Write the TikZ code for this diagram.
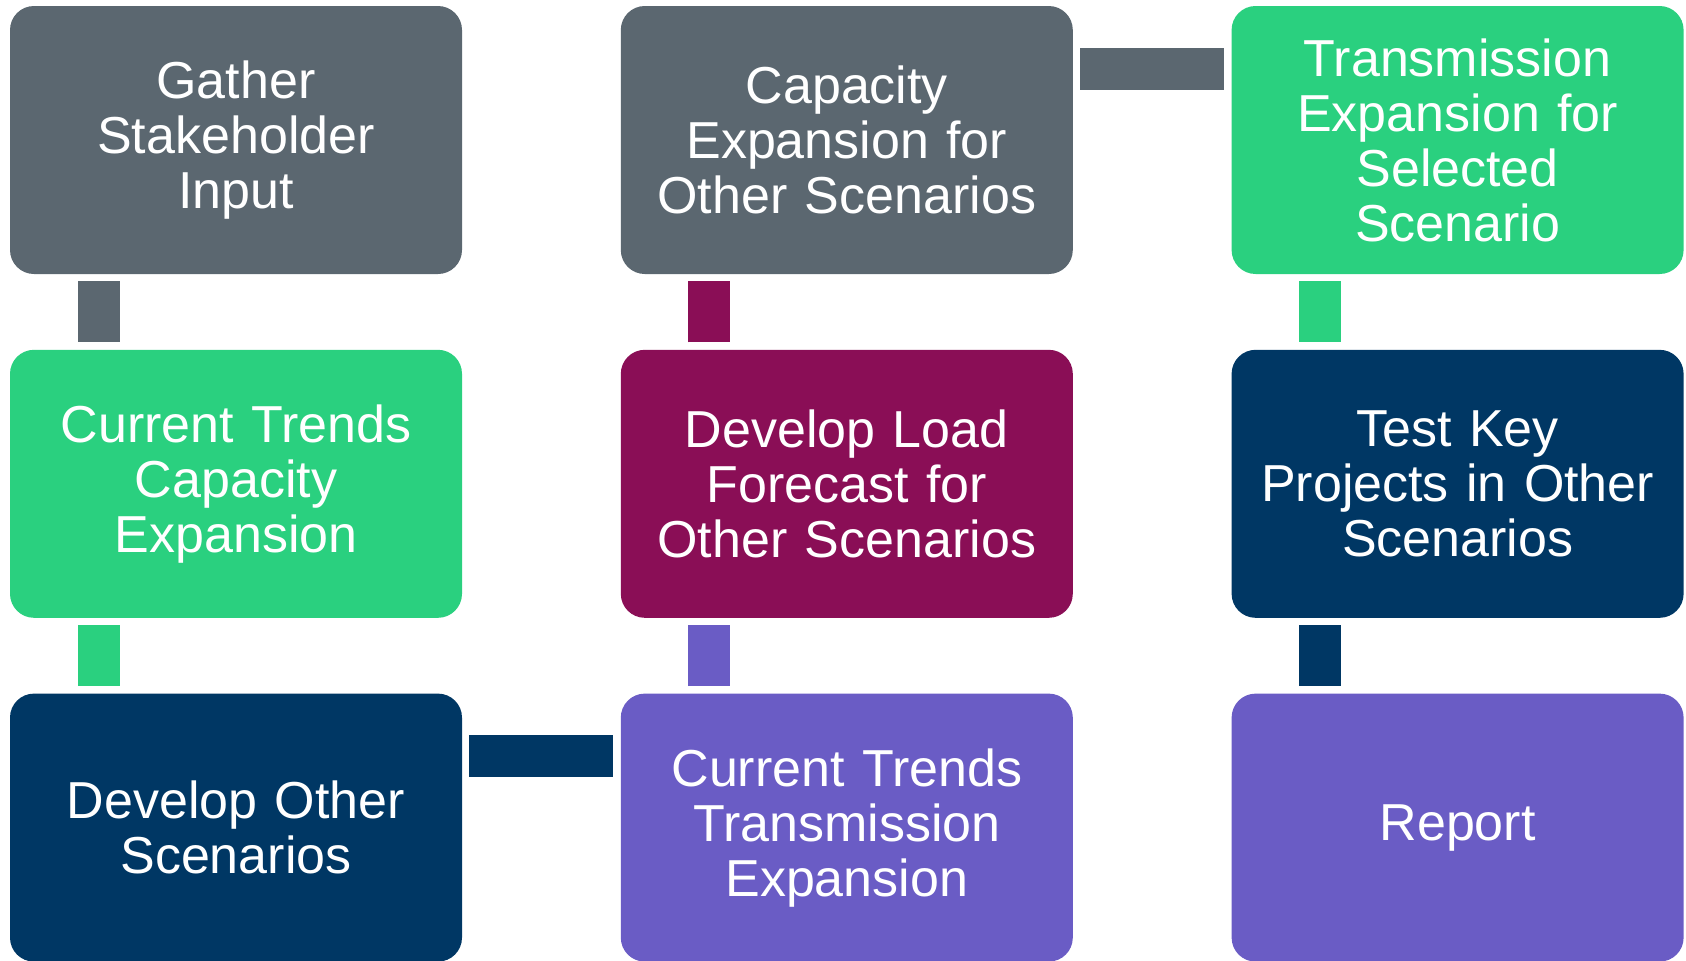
\documentclass[tikz,border=0pt]{standalone}
\usepackage{fontspec}
\setmainfont{Liberation Sans}
\usepackage{tikz}
\usetikzlibrary{positioning, calc}
\definecolor{slate}{HTML}{5B6770}
\definecolor{mint}{HTML}{2AD07F}
\definecolor{navy}{HTML}{003764}
\definecolor{plum}{HTML}{8A0E56}
\definecolor{violet}{HTML}{6A5CC5}
\tikzstyle{stage} = [rectangle, rounded corners=12pt, minimum width=226pt, minimum height=134pt, inner sep=0pt, text width=215pt, align=center, text=white, font=\fontsize{26}{27.5}\selectfont]
\tikzstyle{link} = [line width=21pt]

\begin{document}
\begin{tikzpicture}[node distance=37.5pt]
    \useasboundingbox (0,0) rectangle (843pt,-480pt);
    \node (gather) [stage, fill=slate] at (118pt,-70pt) {Gather\\Stakeholder\\Input};
    \node (ctcap) [stage, fill=mint, below=of gather] {Current Trends\\Capacity\\Expansion};
    \node (devother) [stage, fill=navy, below=of ctcap] {Develop Other\\Scenarios};
    \node (cttrans) [stage, fill=violet, right=79pt of devother] {Current Trends\\Transmission\\Expansion};
    \node (loadfc) [stage, fill=plum, above=of cttrans] {Develop Load\\Forecast for\\Other Scenarios};
    \node (capother) [stage, fill=slate, above=of loadfc] {Capacity\\Expansion for\\Other Scenarios};
    \node (transsel) [stage, fill=mint, right=79pt of capother] {Transmission\\Expansion for\\Selected\\Scenario};
    \node (testkey) [stage, fill=navy, below=of transsel] {Test Key\\Projects in Other\\Scenarios};
    \node (report) [stage, fill=violet, below=of testkey] {Report};

    \draw [link, slate] ([xshift=44.5pt,yshift=-3.5pt]gather.south west) -- ([xshift=44.5pt,yshift=3.5pt]ctcap.north west);
    \draw [link, mint] ([xshift=44.5pt,yshift=-3.5pt]ctcap.south west) -- ([xshift=44.5pt,yshift=3.5pt]devother.north west);
    \draw [link, navy] ([xshift=3.5pt,yshift=-31.5pt]devother.north east) -- ([xshift=-3.5pt,yshift=-31.5pt]cttrans.north west);
    \draw [link, violet] ([xshift=44.5pt,yshift=3.5pt]cttrans.north west) -- ([xshift=44.5pt,yshift=-3.5pt]loadfc.south west);
    \draw [link, plum] ([xshift=44.5pt,yshift=3.5pt]loadfc.north west) -- ([xshift=44.5pt,yshift=-3.5pt]capother.south west);
    \draw [link, slate] ([xshift=3.5pt,yshift=-31.5pt]capother.north east) -- ([xshift=-3.5pt,yshift=-31.5pt]transsel.north west);
    \draw [link, mint] ([xshift=44.5pt,yshift=-3.5pt]transsel.south west) -- ([xshift=44.5pt,yshift=3.5pt]testkey.north west);
    \draw [link, navy] ([xshift=44.5pt,yshift=-3.5pt]testkey.south west) -- ([xshift=44.5pt,yshift=3.5pt]report.north west);
\end{tikzpicture}
\end{document}
